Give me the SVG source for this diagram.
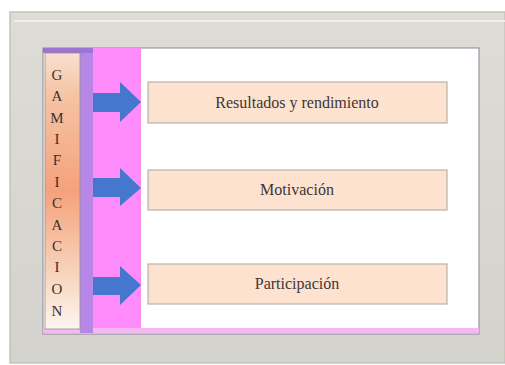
<svg xmlns="http://www.w3.org/2000/svg" width="505" height="365" viewBox="0 0 505 365">
<defs>
<linearGradient id="strip" x1="0" y1="0" x2="0" y2="1">
<stop offset="0" stop-color="#f8e0d0"/>
<stop offset="0.15" stop-color="#f6c4a4"/>
<stop offset="0.5" stop-color="#f4a27c"/>
<stop offset="0.8" stop-color="#f8d4bc"/>
<stop offset="1" stop-color="#fdf6f0"/>
</linearGradient>
<linearGradient id="frame" x1="0" y1="0" x2="0" y2="1">
<stop offset="0" stop-color="#dddcd6"/>
<stop offset="1" stop-color="#d3d2cc"/>
</linearGradient>
<style>
.box{fill:#fde3cf;stroke:#b9b1aa;stroke-width:1.2}
.lbl{font-family:"Liberation Serif",serif;font-size:16px;fill:#3f3636;text-anchor:middle}
.ltr{font-family:"Liberation Serif",serif;font-size:15px;fill:#3b3232;text-anchor:middle}
.arrow{fill:#4677cf}
</style>
</defs>
<rect x="0" y="0" width="505" height="365" fill="#ffffff"/>
<rect x="10" y="12" width="495" height="351" fill="url(#frame)" stroke="#c4c3bc" stroke-width="1.5"/>
<line x1="14" y1="21" x2="505" y2="21" stroke="#f6f5f0" stroke-width="1.5"/>
<rect x="43" y="48" width="436" height="286" fill="#ffffff" stroke="#8a8898" stroke-width="1"/>
<rect x="93" y="48" width="48" height="285" fill="#ff8cfa"/>
<rect x="43" y="328" width="436" height="5" fill="#f4b8f4"/>
<rect x="80" y="48" width="13" height="285" fill="#b687e6"/>
<rect x="43" y="48" width="50" height="5" fill="#9b74d6"/>
<g id="gamificacion">
<rect x="45" y="53" width="35" height="276" fill="url(#strip)" stroke="#9a8a86" stroke-width="0.8"/>
<text class="ltr" x="57" y="80">G</text>
<text class="ltr" x="57" y="101">A</text>
<text class="ltr" x="57" y="123">M</text>
<text class="ltr" x="57" y="144">I</text>
<text class="ltr" x="57" y="165">F</text>
<text class="ltr" x="57" y="187">I</text>
<text class="ltr" x="57" y="208">C</text>
<text class="ltr" x="57" y="230">A</text>
<text class="ltr" x="57" y="251">C</text>
<text class="ltr" x="57" y="272">I</text>
<text class="ltr" x="57" y="294">O</text>
<text class="ltr" x="57" y="316">N</text>
</g>
<g id="connectors">
<path class="arrow" d="M93,93 H120 V82 L141,102 L120,122 V112 H93 Z"/>
<path class="arrow" d="M93,178 H120 V168 L141,188 L120,206 V197 H93 Z"/>
<path class="arrow" d="M93,277 H120 V266 L141,285 L120,305 V295 H93 Z"/>
</g>
<g id="resultados">
<rect class="box" x="148" y="82" width="299" height="41"/>
<text class="lbl" x="297" y="108">Resultados y rendimiento</text>
</g>
<g id="motivacion">
<rect class="box" x="148" y="170" width="299" height="40"/>
<text class="lbl" x="297" y="195">Motivación</text>
</g>
<g id="participacion">
<rect class="box" x="148" y="264" width="299" height="40"/>
<text class="lbl" x="297" y="289">Participación</text>
</g>
</svg>
